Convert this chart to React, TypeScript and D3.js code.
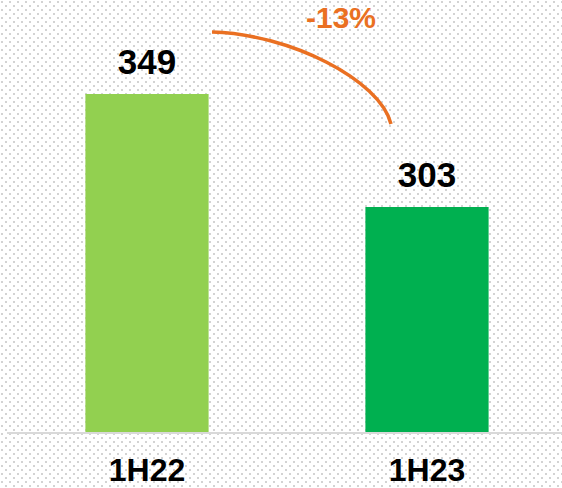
import React from "react";
import * as d3 from "d3";

const categories = ["1H22", "1H23"];
const values = [349, 303];
const barColors = ["#92D050", "#00B050"];
const changeLabel = "-13%";

const W = 562;
const H = 488;

export default function App() {
  const x = d3
    .scaleBand<string>()
    .domain(categories)
    .range([7, 567])
    .paddingInner(0.56)
    .paddingOuter(0.28);
  const y = d3.scaleLinear().domain([211, 349]).range([433, 94]);
  const baseY = y(211);

  const c0 = (x(categories[0]) ?? 0) + x.bandwidth() / 2;
  const c1 = (x(categories[1]) ?? 0) + x.bandwidth() / 2;

  const startX = c0 + 65;
  const startY = 32;
  const endX = c1 - 36;
  const endY = y(values[1]) - 83;
  const path = d3.path();
  path.moveTo(startX, startY);
  path.bezierCurveTo(startX + 78, startY + 2, endX - 11, startY + 48, endX, endY);

  const font = "'Liberation Sans', Arial, sans-serif";
  const orange = "#EA7022";

  return (
    <svg
      width={W}
      height={H}
      style={{ position: "absolute", left: 0, top: 0 }}
      xmlns="http://www.w3.org/2000/svg"
    >
      <defs>
        <pattern id="dots" width={8} height={8} patternUnits="userSpaceOnUse">
          <rect x={1} y={1} width={2} height={2} fill="#d3d3d3" />
          <rect x={5} y={5} width={2} height={2} fill="#d3d3d3" />
        </pattern>
      </defs>
      <rect x={0} y={0} width={W} height={H} fill="#ffffff" />
      <rect x={0} y={0} width={W} height={H} fill="url(#dots)" />
      {categories.map((c, i) => (
        <rect
          key={c}
          x={x(c)}
          y={y(values[i])}
          width={x.bandwidth()}
          height={baseY - y(values[i])}
          fill={barColors[i]}
        />
      ))}
      <line x1={7} x2={W} y1={baseY} y2={baseY} stroke="#d9d9d9" strokeWidth={2} />
      {categories.map((c, i) => (
        <text
          key={"v" + c}
          x={(x(c) ?? 0) + x.bandwidth() / 2}
          y={y(values[i]) - 20}
          textAnchor="middle"
          fontFamily={font}
          fontWeight="bold"
          fontSize={35}
          fill="#000"
        >
          {values[i]}
        </text>
      ))}
      {categories.map((c) => (
        <text
          key={"c" + c}
          x={(x(c) ?? 0) + x.bandwidth() / 2}
          y={481}
          textAnchor="middle"
          fontFamily={font}
          fontWeight="bold"
          fontSize={32}
          fill="#000"
        >
          {c}
        </text>
      ))}
      <path d={path.toString()} fill="none" stroke={orange} strokeWidth={3.5} />
      <text
        x={341}
        y={28}
        textAnchor="middle"
        fontFamily={font}
        fontWeight="bold"
        fontSize={30}
        fill={orange}
      >
        {changeLabel}
      </text>
    </svg>
  );
}
